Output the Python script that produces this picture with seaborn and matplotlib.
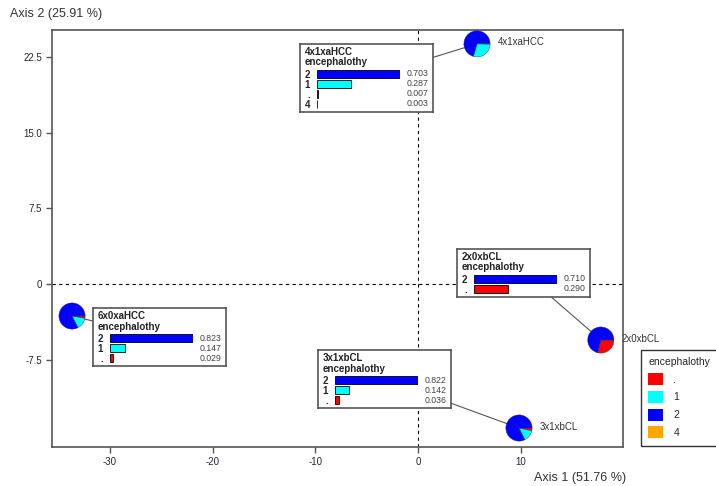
import pandas as pd
import seaborn as sns
import matplotlib.pyplot as plt
from matplotlib.patches import Patch
from matplotlib.transforms import blended_transform_factory

# cluster names and their coordinates on the first two axes
groups = ["4x1xaHCC", "6x0xaHCC", "3x1xbCL", "2x0xbCL"]
axis1 = [5.74, -33.7, 9.83, 17.8]
axis2 = [23.8, -3.17, -14.27, -5.55]

# encephalothy levels and proportions in each cluster
levels = [".", "1", "2", "4"]
prop_4x1xaHCC = [0.007, 0.287, 0.703, 0.003]
prop_6x0xaHCC = [0.029, 0.147, 0.823, 0.0]
prop_3x1xbCL = [0.036, 0.142, 0.822, 0.0]
prop_2x0xbCL = [0.290, 0.0, 0.710, 0.0]
props = [prop_4x1xaHCC, prop_6x0xaHCC, prop_3x1xbCL, prop_2x0xbCL]

level_colors = ["#FF0000", "#00FFFF", "#0000FF", "#FFA500"]
palette = dict(zip(levels, level_colors))

# top-left corner of each info box (data coords)
box_corner = [(-11.49, 23.79), (-31.65, -2.38), (-9.74, -6.54), (3.80, 3.47)]

sns.set_style("ticks")
plt.rcParams['font.family'] = ['Liberation Sans', 'DejaVu Sans']
plt.rcParams['axes.unicode_minus'] = False

W, H = 716, 486
fig = plt.figure(figsize=(W / 100, H / 100), dpi=100)
ax = fig.add_axes([52 / W, 1 - 447 / H, 571 / W, 417 / H])
xlim = (-35.65, 19.96)
ylim = (-16.15, 25.17)
ax.set_xlim(xlim)
ax.set_ylim(ylim)
sx = 571 / (xlim[1] - xlim[0])
sy = 417 / (ylim[1] - ylim[0])

ax.set_xticks([-30, -20, -10, 0, 10])
ax.set_yticks([-7.5, 0, 7.5, 15, 22.5])
ax.set_yticklabels(["-7.5", "0", "7.5", "15.0", "22.5"])
ax.tick_params(length=4, width=1, color="#555555", labelsize=7, labelcolor="#262638", pad=3)
for s in ax.spines.values():
    s.set_color("#555555")
    s.set_linewidth(1.2)

ax.axhline(0, color="black", lw=0.8, ls=(0, (3, 3)), zorder=0)
ax.axvline(0, color="black", lw=0.8, ls=(0, (3, 3)), zorder=0)


def draw_box(name, vals, x0, ytop):
    df = pd.DataFrame({"level": levels, "p": vals})
    df = df[df.p > 0].sort_values("p", ascending=False)
    n = len(df)
    hpx = 28 + 10 * n
    wpx = 133
    bx = ax.inset_axes([x0, ytop - hpx / sy, wpx / sx, hpx / sy], transform=ax.transData, zorder=5)
    bx.set_xlim(0, wpx)
    bx.set_ylim(hpx, 0)
    bx.set_xticks([])
    bx.set_yticks([])
    for s in bx.spines.values():
        s.set_visible(True)
        s.set_color("#555555")
        s.set_linewidth(1.2)
    bx.text(5, 8, name, fontsize=7, fontweight="bold", va="center", color="#222222")
    bx.text(5, 18.5, "encephalothy", fontsize=7, fontweight="bold", va="center", color="#222222")

    bar = bx.inset_axes([17 / wpx, 1 - (25 + 10 * n) / hpx, 83 / wpx, 10 * n / hpx])
    sns.barplot(data=df, x="p", y="level", hue="level", palette=palette, order=list(df.level),
                ax=bar, orient="h", width=0.85, edgecolor="black", linewidth=0.6,
                errorbar=None, legend=False, saturation=1)
    bar.set_xlim(0, df.p.max())
    bar.set_ylim(n - 0.5, -0.5)
    bar.set_xticks([])
    bar.set_xlabel("")
    bar.set_ylabel("")
    bar.patch.set_alpha(0)
    sns.despine(ax=bar, left=True, bottom=True)
    bar.tick_params(axis="y", length=0, pad=5, labelsize=7)
    for t in bar.get_yticklabels():
        t.set_fontweight("bold")
    tr = blended_transform_factory(bar.transAxes, bar.transData)
    for i, v in enumerate(df.p):
        bar.text(1.34, i, f"{v:.3f}", transform=tr, ha="right", va="center",
                 fontsize=6.3, color="#444444")
    return x0 + wpx / sx / 2, ytop - hpx / sy / 2


r = 13.5
for name, vals, cx, cy, (bx0, by0) in zip(groups, props, axis1, axis2, box_corner):
    bcx, bcy = draw_box(name, vals, bx0, by0)
    ax.plot([bcx, cx], [bcy, cy], color="#555555", lw=0.8, zorder=1)

    pax = ax.inset_axes([cx - r / sx, cy - r / sy, 2 * r / sx, 2 * r / sy],
                        transform=ax.transData, zorder=4)
    pax.pie(vals, colors=level_colors, startangle=0, counterclock=False,
            wedgeprops={"linewidth": 0.3, "edgecolor": "#333366"})
    pax.set_xlim(-1.03, 1.03)
    pax.set_ylim(-1.03, 1.03)
    pax.axis("off")

    # the 6x0xaHCC pie label sits under its info box, as in the original
    ax.annotate(name, (cx, cy), xytext=(15, 1), textcoords="offset points",
                fontsize=7, color="#333333", va="center", zorder=2)

handles = [Patch(facecolor=c, edgecolor="none", label=l) for l, c in zip(levels, level_colors)]
leg = fig.legend(handles=handles, title="encephalothy", loc="upper left",
                 bbox_to_anchor=(641 / W, 1 - 350 / H), frameon=True, fancybox=False,
                 fontsize=7.5, title_fontsize=7.5, handlelength=1.4, handleheight=1.4,
                 labelspacing=0.55, borderpad=0.7, handletextpad=1.0, alignment="left",
                 borderaxespad=0)
leg.get_frame().set_edgecolor("black")
leg.get_frame().set_linewidth(1.0)

fig.text(10 / W, 1 - 14 / H, "Axis 2 (25.91 %)", fontsize=9, color="#333333", va="center")
fig.text(626 / W, 1 - 478 / H, "Axis 1 (51.76 %)", fontsize=9, color="#333333",
         va="center", ha="right")

fig.savefig("out.png", dpi=100)
